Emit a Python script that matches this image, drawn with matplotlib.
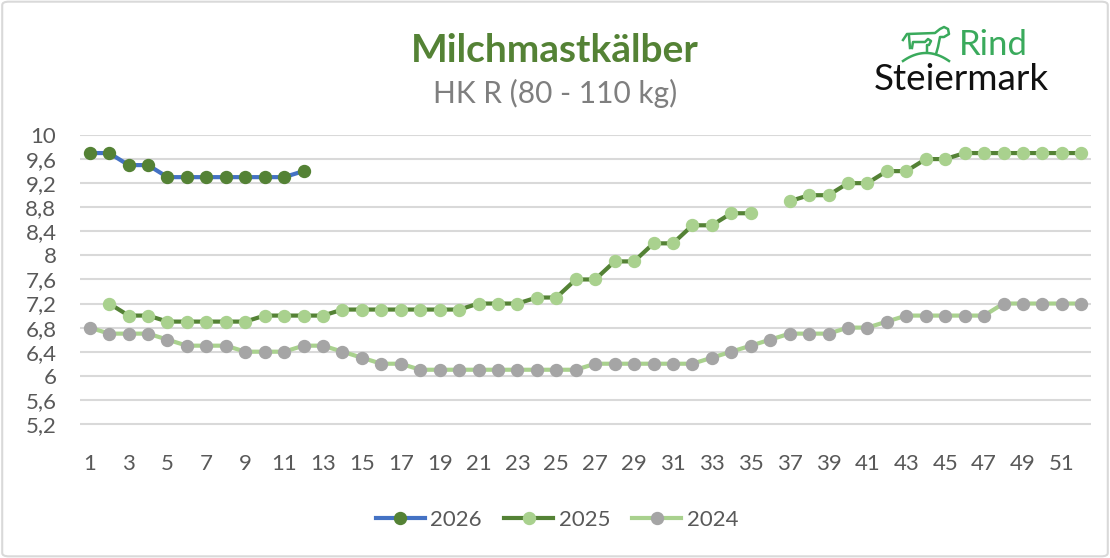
import numpy as np
import matplotlib.pyplot as plt
from matplotlib.patches import FancyBboxPatch

# ---------------------------------------------------------------
# Data (price per kg, week of year)
# ---------------------------------------------------------------
weeks = np.arange(1, 53)
nan = np.nan

price_2026 = [9.7, 9.7, 9.5, 9.5, 9.3, 9.3, 9.3, 9.3, 9.3, 9.3, 9.3, 9.4] + [nan] * 40

price_2025 = [nan, 7.2, 7.0, 7.0, 6.9, 6.9, 6.9, 6.9, 6.9, 7.0,
              7.0, 7.0, 7.0, 7.1, 7.1, 7.1, 7.1, 7.1, 7.1, 7.1,
              7.2, 7.2, 7.2, 7.3, 7.3, 7.6, 7.6, 7.9, 7.9, 8.2,
              8.2, 8.5, 8.5, 8.7, 8.7, nan, 8.9, 9.0, 9.0, 9.2,
              9.2, 9.4, 9.4, 9.6, 9.6, 9.7, 9.7, 9.7, 9.7, 9.7,
              9.7, 9.7]

price_2024 = [6.8, 6.7, 6.7, 6.7, 6.6, 6.5, 6.5, 6.5, 6.4, 6.4,
              6.4, 6.5, 6.5, 6.4, 6.3, 6.2, 6.2, 6.1, 6.1, 6.1,
              6.1, 6.1, 6.1, 6.1, 6.1, 6.1, 6.2, 6.2, 6.2, 6.2,
              6.2, 6.2, 6.3, 6.4, 6.5, 6.6, 6.7, 6.7, 6.7, 6.8,
              6.8, 6.9, 7.0, 7.0, 7.0, 7.0, 7.0, 7.2, 7.2, 7.2,
              7.2, 7.2]

y_ticks = [5.2, 5.6, 6.0, 6.4, 6.8, 7.2, 7.6, 8.0, 8.4, 8.8, 9.2, 9.6, 10.0]
x_ticks = list(range(1, 53, 2))

title = 'Milchmastkälber'
subtitle = 'HK R (80 - 110 kg)'

# ---------------------------------------------------------------
# Style
# ---------------------------------------------------------------
plt.rcParams['font.family'] = ['Lato', 'DejaVu Sans']

BLUE = '#4472C4'
DARK_GREEN = '#548235'
LIGHT_GREEN = '#A9D18E'
GREY = '#A5A5A5'
TEXT_GREY = '#595959'
GRID = '#D9D9D9'
W, H = 1110, 558

fig = plt.figure(figsize=(11.1, 5.58), dpi=100)
ax = fig.add_axes([80 / W, 1 - 448 / H, (1091 - 80) / W, (448 - 135) / H])

line_kw = dict(lw=3.0, marker='o', ms=8.6, solid_joinstyle='round')
ax.plot(weeks, price_2026, color=BLUE, mfc=DARK_GREEN, mec=DARK_GREEN, label='2026', **line_kw)
ax.plot(weeks, price_2025, color=DARK_GREEN, mfc=LIGHT_GREEN, mec=LIGHT_GREEN, label='2025', **line_kw)
ax.plot(weeks, price_2024, color=LIGHT_GREEN, mfc=GREY, mec=GREY, label='2024', **line_kw)

ax.set_xlim(0.5, 52.5)
ax.set_ylim(4.8, 10.0)
ax.set_yticks(y_ticks)
ax.set_yticklabels([('%g' % v).replace('.', ',') for v in y_ticks])
ax.set_xticks(x_ticks)
ax.set_xticklabels([str(v) for v in x_ticks])

ax.grid(axis='y', color=GRID, lw=1.5)
ax.set_axisbelow(True)
for s in ax.spines.values():
    s.set_visible(False)
ax.tick_params(length=0, labelsize=16, colors=TEXT_GREY)
ax.tick_params(axis='y', pad=17)
ax.tick_params(axis='x', pad=4)

# titles
fig.text(555 / W, 1 - 51 / H, title, ha='center', va='center',
         fontsize=28, fontweight='bold', color=DARK_GREEN)
fig.text(555 / W, 1 - 93 / H, subtitle, ha='center', va='center',
         fontsize=21.5, color='#7F7F7F')

# logo
LOGO_GREEN = '#3AAA5C'
fig.text(959 / W, 1 - 55 / H, 'Rind', ha='left', va='baseline',
         fontsize=25, color=LOGO_GREEN)
fig.text(874 / W, 1 - 90 / H, 'Steiermark', ha='left', va='baseline',
         fontsize=26.5, color='#111111')


def logo_line(xs, ys):
    fig.add_artist(plt.Line2D([x / W for x in xs], [1 - y / H for y in ys],
                              color=LOGO_GREEN, lw=1.8, transform=fig.transFigure))


# cow, calf and meadow
logo_line([903, 907, 935, 940, 944, 948, 949, 944, 940, 938, 936],
          [40, 34, 33, 29, 27, 29, 34, 37, 37, 47, 54])
logo_line([909, 910], [36, 48])
logo_line([912, 913, 925, 928, 931, 929, 927, 927],
          [48, 42, 42, 39, 41, 45, 45, 52])
arc = np.linspace(-1, 1, 30)
logo_line(926 + 23 * arc, 53 + 8 * arc ** 2)

# legend
fig.legend(loc='center', bbox_to_anchor=(557 / W, 1 - 520 / H), ncol=3, frameon=False,
           fontsize=16, labelcolor=TEXT_GREY, handlelength=2.2, handletextpad=0.25,
           columnspacing=1.0)

# chart border
fig.add_artist(FancyBboxPatch((0.002, 0.003), 0.996, 0.994, boxstyle='round,pad=0,rounding_size=0.006',
                              transform=fig.transFigure, fill=False, ec=GRID, lw=1.5))

fig.savefig('out.png', dpi=100)
